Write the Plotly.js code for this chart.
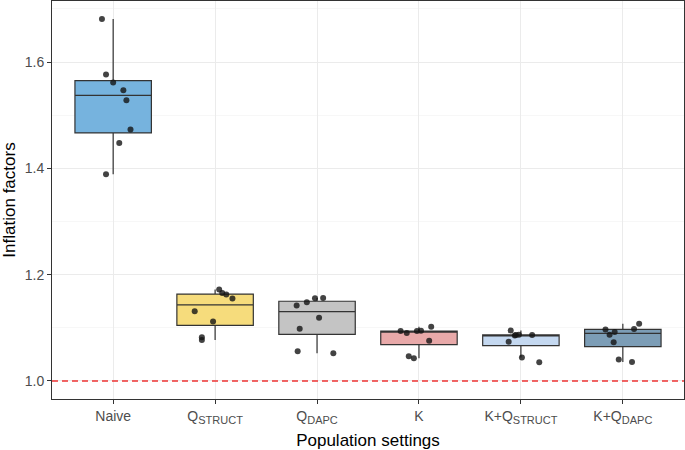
<!DOCTYPE html>
<html>
<head>
<meta charset="utf-8">
<script src="https://cdn.plot.ly/plotly-3.0.1.min.js"></script>
<style>
  body { margin: 0; }
  #chart { width: 685px; height: 450px; }
</style>
</head>
<body>
<div id="chart"></div>
<script>
// Population settings (tick labels: main part + subscript)
var settingsMain = ["Naive", "Q", "Q", "K", "K+Q", "K+Q"];
var settingsSub = ["", "STRUCT", "DAPC", "", "STRUCT", "DAPC"];
var fillColors = ["#76b3de", "#f6dc7c", "#c4c4c4", "#e8a9a9", "#c4d8f0", "#7c9db6"];

// Box summaries
var q1 = [1.4667, 1.1045, 1.0875, 1.0683, 1.0664, 1.0646];
var med = [1.5375, 1.1432, 1.1305, 1.0919, 1.0860, 1.0895];
var q3 = [1.5650, 1.1634, 1.1500, 1.0940, 1.0865, 1.0972];
var lowerWhisker = [1.3890, 1.0770, 1.0520, 1.0426, 1.0443, 1.0356];
var upperWhisker = [1.6810, 1.1720, 1.1563, 1.1020, 1.0950, 1.1075];

// Individual inflation factors (8 runs per setting)
var naive = [1.681, 1.5765, 1.5615, 1.547, 1.528, 1.473, 1.448, 1.389];
var qStruct = [1.172, 1.1657, 1.1626, 1.155, 1.1313, 1.112, 1.082, 1.077];
var qDapc = [1.1557, 1.1563, 1.148, 1.142, 1.119, 1.098, 1.056, 1.052];
var kOnly = [1.0938, 1.090, 1.0938, 1.0944, 1.102, 1.0756, 1.0463, 1.0426];
var kQStruct = [1.095, 1.0857, 1.0869, 1.0863, 1.0738, 1.0443, 1.035, 1.0863];
var kQDapc = [1.097, 1.0869, 1.092, 1.0976, 1.1075, 1.0726, 1.0405, 1.0356];

// horizontal jitter of each point, in category units
var naiveJitter = [-0.11, -0.07, 0.0, 0.10, 0.13, 0.17, 0.06, -0.07];
var qStructJitter = [0.04, 0.07, 0.11, 0.17, -0.20, -0.02, -0.13, -0.13];
var qDapcJitter = [-0.02, 0.06, -0.10, -0.20, 0.02, -0.17, -0.19, 0.16];
var kOnlyJitter = [-0.18, -0.12, -0.02, 0.02, 0.12, 0.10, -0.10, -0.05];
var kQStructJitter = [-0.10, -0.06, -0.02, 0.11, -0.12, 0.01, 0.18, -0.05];
var kQDapcJitter = [-0.17, -0.13, -0.08, 0.11, 0.16, -0.09, -0.04, 0.09];

var points = [naive, qStruct, qDapc, kOnly, kQStruct, kQDapc];
var jitters = [naiveJitter, qStructJitter, qDapcJitter, kOnlyJitter, kQStructJitter, kQDapcJitter];

var tickLabels = settingsMain.map(function(m, i) {
    if (!settingsSub[i]) return m;
    return m + "<sub><span style='font-size:11px'>" + settingsSub[i] + "</span></sub>";
});

var data = [];

// boxes, one trace each so every setting gets its own fill
settingsMain.forEach(function(s, i) {
    data.push({
        type: "box",
        x: [i],
        q1: [q1[i]],
        median: [med[i]],
        q3: [q3[i]],
        lowerfence: [lowerWhisker[i]],
        upperfence: [upperWhisker[i]],
        width: 0.75,
        whiskerwidth: 0,
        fillcolor: fillColors[i],
        line: {color: "#333333", width: 1.2},
        boxpoints: false,
        showlegend: false,
        name: s + settingsSub[i]
    });
});

// jittered points on top
points.forEach(function(vals, i) {
    data.push({
        type: "scatter",
        mode: "markers",
        x: vals.map(function(v, j) { return i + jitters[i][j]; }),
        y: vals,
        marker: {color: "rgba(20,20,20,0.8)", size: 6},
        showlegend: false,
        hoverinfo: "y"
    });
});

var layout = {
    width: 685,
    height: 450,
    margin: {l: 52, r: 1, t: 1, b: 51},
    paper_bgcolor: "white",
    plot_bgcolor: "white",
    font: {family: "Liberation Sans, Arial, sans-serif", color: "#4d4d4d", size: 14},
    showlegend: false,
    xaxis: {
        range: [-0.6, 5.6],
        tickmode: "array",
        tickvals: [0, 1, 2, 3, 4, 5],
        ticktext: tickLabels,
        showgrid: true,
        gridcolor: "#ebebeb",
        gridwidth: 1,
        zeroline: false,
        showline: true,
        mirror: true,
        linecolor: "#333333",
        linewidth: 1,
        ticks: "outside",
        ticklen: 4,
        tickcolor: "#333333",
        tickfont: {size: 14, color: "#4d4d4d"},
        title: {text: "Population settings", font: {size: 17, color: "#000"}, standoff: 9}
    },
    yaxis: {
        range: [0.966, 1.715],
        tick0: 1.0,
        dtick: 0.2,
        tickformat: ".1f",
        showgrid: true,
        gridcolor: "#ebebeb",
        gridwidth: 1,
        minor: {dtick: 0.1, tick0: 1.0, showgrid: true, gridcolor: "#f2f2f2", gridwidth: 0.6, ticks: ""},
        zeroline: false,
        showline: true,
        mirror: true,
        linecolor: "#333333",
        linewidth: 1,
        ticks: "outside",
        ticklen: 4,
        tickcolor: "#333333",
        tickfont: {size: 14, color: "#4d4d4d"},
        title: {text: "Inflation factors", font: {size: 17, color: "#000"}, standoff: 4}
    },
    shapes: [{
        type: "line",
        xref: "paper", x0: 0, x1: 1,
        yref: "y", y0: 1.0, y1: 1.0,
        line: {color: "#ee3434", width: 1.5, dash: "6px,4px"}
    }]
};

Plotly.newPlot("chart", data, layout, {displayModeBar: false, staticPlot: true});
</script>
</body>
</html>
